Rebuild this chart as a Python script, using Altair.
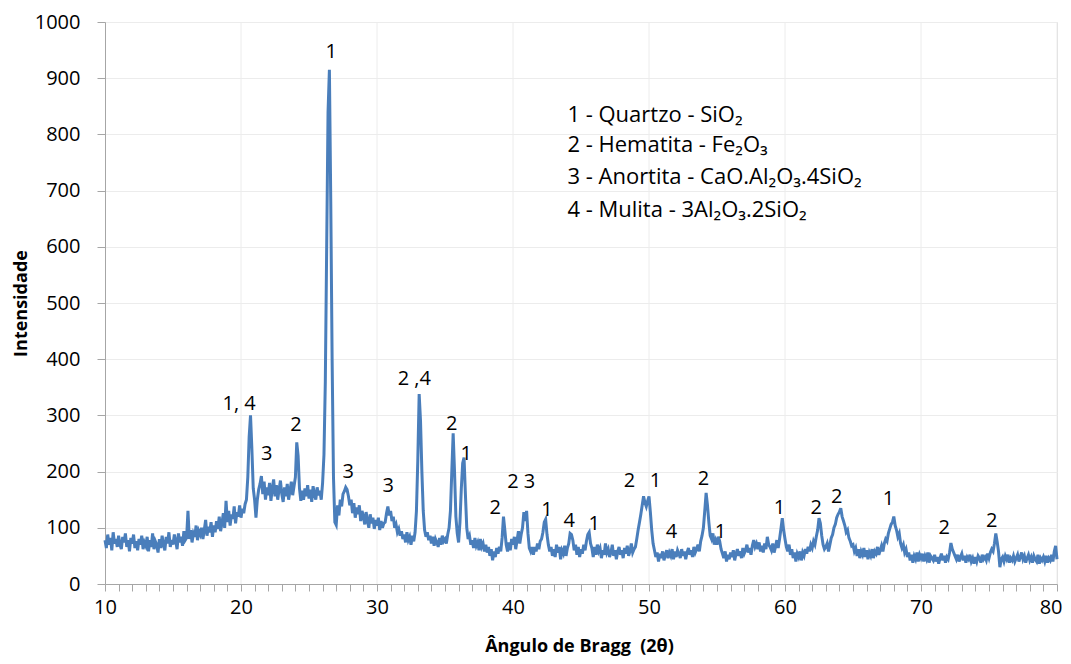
import altair as alt
import pandas as pd

# Intensity sampled every 0.1 degree (2-theta), one row per degree
seg_10 = [
    78, 64, 88, 70, 82, 60, 92, 72, 80, 66,
    86, 70, 62, 84, 74, 90, 66, 78, 58, 82,
    72, 88, 64, 76, 60, 80, 70, 86, 62, 74,
    68, 84, 58, 78, 66, 90, 62, 76, 70, 56,
    80, 64, 86, 70, 60, 84, 72, 92, 66, 78,
    70, 88, 76, 62, 90, 74, 84, 68, 94, 78,
    82, 130, 80, 96, 74, 90, 84, 104, 78, 94,
    88, 100, 80, 96, 114, 86, 102, 92, 110, 84,
    104, 92, 112, 98, 120, 94, 108, 126, 100, 148,
    110, 130, 104, 124, 116, 138, 108, 128, 120, 140,
]
seg_20 = [
    118, 134, 126, 142, 150, 190, 262, 300, 240, 170,
    150, 118, 150, 168, 178, 192, 160, 182, 150, 172,
    158, 180, 148, 170, 186, 156, 176, 150, 168, 184,
    160, 146, 172, 156, 178, 150, 166, 182, 158, 174,
    190, 252, 228, 170, 148, 166, 150, 170, 156, 176,
    152, 168, 146, 174, 160, 150, 172, 158, 166, 150,
    180, 230, 360, 600, 840, 915, 680, 400, 190, 110,
    105, 140, 122, 150, 138, 160, 165, 172, 168, 156,
    140, 150, 126, 144, 118, 136, 124, 140, 112, 130,
    120, 106, 128, 112, 100, 124, 108, 118, 98, 114,
]
seg_30 = [
    104, 118, 96, 112, 100, 108, 110, 126, 138, 122,
    130, 112, 120, 100, 106, 92, 98, 86, 94, 80,
    88, 74, 92, 78, 84, 70, 86, 76, 92, 130,
    220, 338, 290, 200, 130, 96, 84, 92, 78, 86,
    72, 84, 68, 80, 74, 66, 82, 70, 86, 76,
    80, 72, 88, 100, 130, 200, 268, 200, 120, 90,
    74, 110, 170, 215, 225, 160, 100, 80, 86, 70,
    78, 64, 82, 68, 74, 60, 80, 66, 72, 58,
    70, 56, 66, 50, 62, 42, 58, 48, 64, 54,
    66, 58, 82, 120, 96, 70, 58, 74, 60, 80,
]
seg_40 = [
    70, 84, 62, 78, 94, 72, 88, 100, 128, 112,
    130, 90, 64, 58, 66, 52, 66, 58, 72, 62,
    76, 80, 92, 110, 115, 88, 70, 58, 66, 50,
    62, 48, 70, 56, 66, 44, 60, 54, 68, 50,
    64, 72, 90, 88, 78, 60, 70, 52, 66, 48,
    62, 54, 70, 60, 76, 88, 92, 72, 64, 48,
    66, 52, 70, 58, 64, 46, 60, 52, 72, 56,
    62, 48, 56, 70, 50, 60, 44, 58, 66, 52,
    60, 46, 64, 54, 68, 50, 58, 72, 56, 62,
    66, 80, 96, 110, 124, 140, 156, 145, 138, 148,
]
seg_50 = [
    156, 128, 96, 72, 60, 48, 56, 40, 54, 46,
    58, 42, 52, 60, 46, 56, 50, 62, 44, 58,
    48, 60, 54, 46, 62, 50, 58, 44, 56, 64,
    52, 60, 48, 66, 56, 62, 70, 58, 76, 86,
    100, 130, 162, 140, 110, 86, 80, 90, 70, 78,
    70, 84, 76, 62, 54, 46, 58, 40, 52, 44,
    56, 48, 60, 42, 54, 62, 50, 58, 46, 64,
    54, 60, 70, 56, 64, 52, 68, 78, 66, 72,
    62, 74, 58, 68, 56, 72, 62, 84, 70, 66,
    60, 72, 56, 66, 78, 64, 80, 98, 117, 96,
]
seg_60 = [
    80, 66, 58, 70, 52, 62, 46, 56, 40, 54,
    48, 58, 42, 56, 50, 62, 54, 66, 58, 70,
    64, 76, 70, 84, 96, 117, 108, 86, 70, 62,
    66, 72, 58, 70, 82, 88, 100, 106, 118, 124,
    128, 135, 120, 112, 104, 92, 96, 82, 76, 68,
    70, 58, 64, 50, 62, 46, 58, 52, 64, 48,
    60, 44, 56, 50, 62, 46, 58, 54, 66, 52,
    60, 68, 58, 72, 80, 76, 90, 98, 106, 110,
    120, 104, 96, 84, 90, 72, 64, 70, 56, 62,
    48, 56, 42, 52, 38, 50, 44, 56, 40, 52,
]
seg_70 = [
    46, 54, 40, 50, 44, 56, 38, 50, 46, 42,
    52, 40, 48, 36, 46, 54, 42, 50, 38, 48,
    44, 56, 73, 62, 56, 50, 44, 52, 40, 48,
    54, 42, 50, 38, 48, 44, 52, 40, 46, 36,
    48, 40, 50, 46, 38, 52, 44, 48, 42, 54,
    46, 56, 62, 58, 72, 90, 75, 58, 30, 44,
    48, 40, 50, 44, 52, 38, 46, 42, 50, 40,
    46, 52, 40, 48, 56, 44, 50, 38, 46, 52,
    42, 48, 38, 50, 44, 40, 52, 36, 46, 42,
    48, 40, 50, 38, 46, 42, 52, 40, 58, 68,
]
seg_end = [44]

# Peak annotations
peak_labels = ["1", "1, 4", "3", "2", "3", "3", "2 ,4", "2", "1", "2", "2 3", "1", "4",
               "1", "2", "1", "4", "2", "1", "1", "2", "2", "1", "2", "2"]
peak_x = [26.63, 19.86, 21.9, 24.05, 27.88, 30.82, 32.74, 35.5, 36.56, 38.7, 40.6, 42.5, 44.14,
          45.98, 48.56, 50.47, 51.65, 54.0, 55.25, 59.6, 62.3, 63.8, 67.6, 71.7, 75.2]
peak_y = [947, 320, 231, 283, 199, 174, 365, 285, 231, 135, 181, 132, 112,
          107, 183, 183, 93, 187, 93, 135, 135, 155, 151, 100, 112]

# Phase legend
legend_lines = ["1 - Quartzo - SiO\u2082",
                "2 - Hematita - Fe\u2082O\u2083",
                "3 - Anortita - CaO.Al\u2082O\u2083.4SiO\u2082",
                "4 - Mulita - 3Al\u2082O\u2083.2SiO\u2082"]
legend_x = [44.0, 44.0, 44.0, 44.0]
legend_y = [835, 782, 725, 666]

x_grid = [20, 30, 40, 50, 60, 70, 80]

intensity = seg_10 + seg_20 + seg_30 + seg_40 + seg_50 + seg_60 + seg_70 + seg_end
angle = [round(10 + 0.1 * i, 1) for i in range(len(intensity))]
df = pd.DataFrame({"angle": angle, "intensity": intensity})

FONT = "Open Sans"
x_scale = alt.Scale(domain=[10, 80], nice=False, zero=False)
y_scale = alt.Scale(domain=[0, 1000], nice=False)

x_axis = alt.Axis(
    values=list(range(10, 81)),
    labelExpr="datum.value % 10 == 0 ? datum.label : ''",
    labelOverlap=False, labelFlush=False, grid=False,
    labelAlign={"condition": {"test": "datum.value == 80", "value": "right"}, "value": "center"},
    labelOffset={"condition": {"test": "datum.value == 80", "value": 5}, "value": 0},
    tickSize=7, tickColor="#a6a6a6", domainColor="#a6a6a6",
    labelPadding=6, labelFontSize=20, labelFont=FONT, labelColor="#000000",
    title="\u00c2ngulo de Bragg\u00a0 (2\u03b8)", titleFont=FONT, titleFontSize=18,
    titleFontWeight="bold", titleColor="#000000",
    titleX=474, titleY=62, titleBaseline="middle",
)
y_axis = alt.Axis(
    values=list(range(0, 1001, 100)), format="d", grid=True, gridColor="#ececec",
    tickSize=8, tickColor="#a6a6a6", domainColor="#a6a6a6",
    labelPadding=17, labelFontSize=20, labelFont=FONT, labelColor="#000000",
    title="Intensidade", titleFont=FONT, titleFontSize=18,
    titleFontWeight="bold", titleColor="#000000",
    titleX=-84, titleY=281, titleBaseline="middle", titleAngle=270,
)

vgrid = alt.Chart(pd.DataFrame({"g": x_grid})).mark_rule(
    color="#ececec", strokeWidth=1
).encode(x=alt.X("g:Q", scale=x_scale, axis=x_axis))

line = alt.Chart(df).mark_line(color="#4a7ebb", strokeWidth=3).encode(
    x=alt.X("angle:Q", scale=x_scale, axis=x_axis),
    y=alt.Y("intensity:Q", scale=y_scale, axis=y_axis),
)

labels_df = pd.DataFrame({"t": peak_labels, "x": peak_x, "y": peak_y})
labels = alt.Chart(labels_df).mark_text(
    font=FONT, fontSize=20, color="#000000", baseline="middle", align="center"
).encode(x=alt.X("x:Q", scale=x_scale, axis=x_axis),
         y=alt.Y("y:Q", scale=y_scale, axis=y_axis), text="t:N")

legend_df = pd.DataFrame({"t": legend_lines, "x": legend_x, "y": legend_y})
legend = alt.Chart(legend_df).mark_text(
    font=FONT, fontSize=22, color="#000000", baseline="middle", align="left"
).encode(x=alt.X("x:Q", scale=x_scale, axis=x_axis),
         y=alt.Y("y:Q", scale=y_scale, axis=y_axis), text="t:N")

chart = alt.layer(vgrid, line, labels, legend).properties(
    width=952, height=562,
    autosize=alt.AutoSizeParams(type="none"),
    padding={"left": 97, "top": 14, "right": 6, "bottom": 72},
).configure_view(stroke=None).configure(background="white")

chart.save("out.html", embed_options={"renderer": "svg", "actions": False})
